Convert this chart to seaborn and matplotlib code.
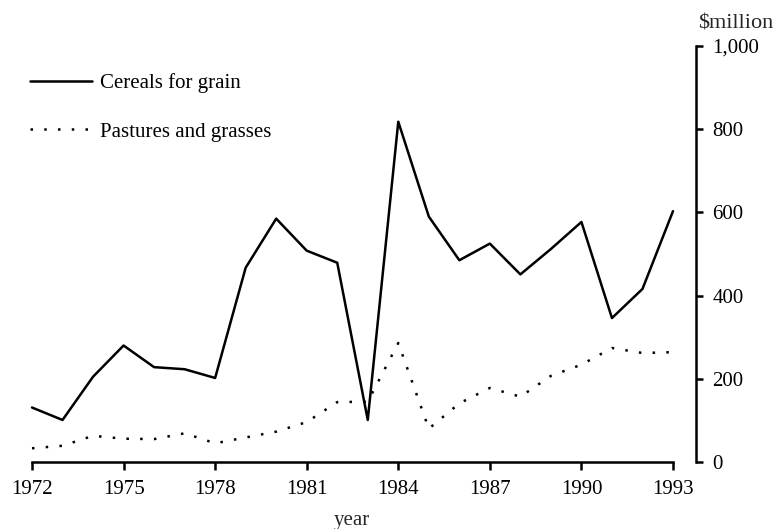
import numpy as np
import pandas as pd

from matplotlib import pyplot as plt
import seaborn as sns

years = list(range(1972, 1994))
cereals = [131, 101, 205, 280, 228, 223, 202, 467, 585, 508, 479, 101,
           818, 590, 485, 525, 451, 512, 577, 346, 416, 603]
pastures = [33, 39, 63, 56, 55, 69, 45, 59, 73, 96, 144, 145,
            286, 80, 141, 178, 157, 207, 234, 274, 262, 264]
xticks = [1972, 1975, 1978, 1981, 1984, 1987, 1990, 1993]
yticks = [0, 200, 400, 600, 800, 1000]
ytick_labels = ["0", "200", "400", "600", "800", "1,000"]

df = pd.DataFrame({"year": years, "Cereals for grain": cereals,
                   "Pastures and grasses": pastures})

sns.set_theme(style="white")
plt.rcParams["font.family"] = ["Liberation Serif", "DejaVu Serif"]

fig = plt.figure(figsize=(7.75, 5.29), dpi=100)
ax = fig.add_axes([32 / 775, 1 - 462 / 529, (673 - 32) / 775, (462 - 46) / 529])

sns.lineplot(data=df, x="year", y="Cereals for grain", color="black",
             linewidth=1.8, label="Cereals for grain", ax=ax, clip_on=False)
sns.lineplot(data=df, x="year", y="Pastures and grasses", color="black",
             linewidth=1.8, linestyle=(0, (1, 4.5)), label="Pastures and grasses",
             ax=ax, clip_on=False)

ax.set_xlim(1972, 1993)
ax.set_ylim(0, 1000)

# spines: bottom axis at zero, detached y axis on the right
ax.spines["left"].set_visible(False)
ax.spines["top"].set_visible(False)
ax.spines["right"].set_position(("outward", 16.5))
for s in ["bottom", "right"]:
    ax.spines[s].set_color("black")
    ax.spines[s].set_linewidth(1.8)

ax.set_xticks(xticks)
ax.set_xticklabels([str(y) for y in xticks])
ax.yaxis.tick_right()
ax.set_yticks(yticks)
ax.set_yticklabels(ytick_labels)
ax.tick_params(axis="x", direction="out", length=6, width=1.8, colors="black",
               labelsize=15, pad=7, bottom=True)
ax.tick_params(axis="y", direction="out", length=5, width=1.8, colors="black",
               labelsize=15, pad=7, right=True, left=False)

ax.set_xlabel("")
ax.set_ylabel("")
fig.text(352 / 775, 1 - 521 / 529, "year", ha="center", va="center", fontsize=15)
fig.text(698 / 775, 1 - 24 / 529, r"\$million", ha="left", va="center", fontsize=16)

leg = ax.legend(loc="upper left", bbox_to_anchor=(-2 / 641, 1 - 27 / 416),
                frameon=False, fontsize=15, handlelength=2.97, handletextpad=0.4,
                labelspacing=1.4, borderaxespad=0, borderpad=0)
for t in leg.get_texts():
    t.set_color("black")

fig.savefig("out.png", dpi=100)
